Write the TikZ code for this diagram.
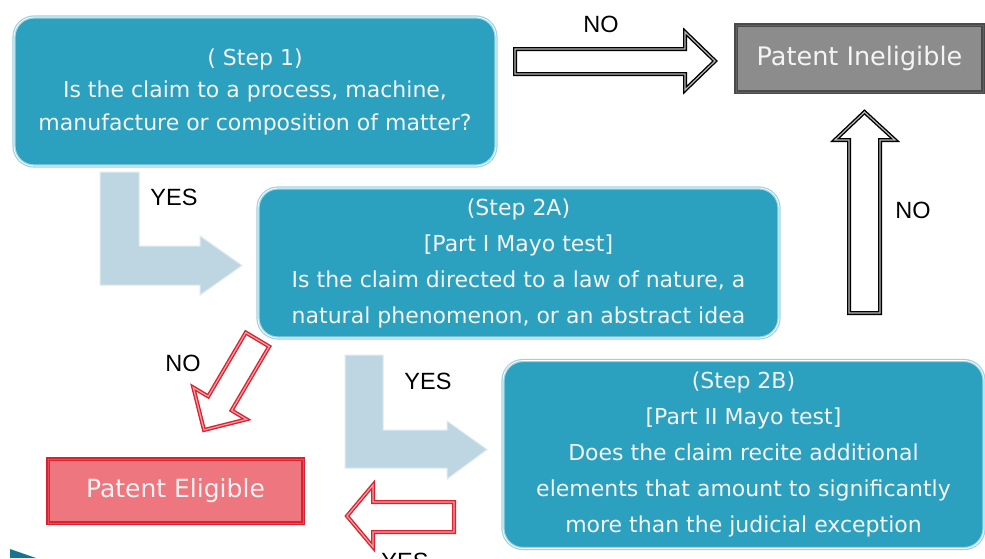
\documentclass[tikz,border=0pt]{standalone}
\usepackage{fontspec}
\setmainfont{DejaVu Sans}
\newfontfamily\labfont{Liberation Sans}
\definecolor{tealfill}{HTML}{2CA1BF}
\definecolor{tealedge}{HTML}{9BD3E3}
\definecolor{tealdark}{HTML}{16758C}
\definecolor{grayfill}{HTML}{8C8C8C}
\definecolor{grayedge}{HTML}{4A4A4A}
\definecolor{redfill}{HTML}{EE767E}
\definecolor{rededge}{HTML}{DC2230}
\definecolor{redlight}{HTML}{F3A3A8}
\definecolor{lightarr}{HTML}{BED6E1}
\definecolor{lightarredge}{HTML}{DDEBF1}
\definecolor{boxtext}{HTML}{F4F4F4}
\tikzset{
  tealbox/.style={draw=tealedge, double=white, double distance=0.8pt, line width=1.2pt,
    fill=tealfill, rounded corners=20pt, text=boxtext, align=center,
    font=\fontsize{22}{36}\selectfont, inner sep=0pt},
  graybox/.style={draw=grayedge, double=gray!75!black, double distance=1pt, line width=1.5pt, fill=grayfill, text=boxtext,
    font=\fontsize{25.5}{30}\selectfont, inner sep=0pt},
  redbox/.style={draw=rededge, double=rededge!80!white, double distance=1pt, line width=1.7pt, fill=redfill, text=boxtext,
    font=\fontsize{25}{30}\selectfont, inner sep=0pt},
  blkarrow/.style={draw=black, line width=1.4pt, double=gray!55, double distance=1.2pt, fill=white},
  redarrow/.style={draw=rededge, line width=1.4pt, double=redlight, double distance=1.2pt, fill=white},
  ltarrow/.style={fill=lightarr, draw=lightarredge, line width=1pt},
  lab/.style={font=\labfont\fontsize{23.5}{26}\selectfont, text=black, inner sep=0pt}
}
\begin{document}
\begin{tikzpicture}[x=1pt,y=-1pt]
\useasboundingbox (0,0) rectangle (985,558);
\fill[white] (0,0) rectangle (985,558);

% boxes
\node[tealbox, minimum width=482pt, minimum height=149pt] (s1) at (255,91.5)
  {( Step 1)\\[-3.5pt]Is the claim to a process, machine,\\[-3.5pt]manufacture or composition of matter?};
\node[tealbox, minimum width=521pt, minimum height=150pt] (s2a) at (518.5,263)
  {(Step 2A)\\{}[Part I Mayo test]\\Is the claim directed to a law of nature, a\\natural phenomenon, or an abstract idea};
\node[tealbox, minimum width=481pt, minimum height=188pt] (s2b) at (743.5,454.5)
  {(Step 2B)\\{}[Part II Mayo test]\\Does the claim recite additional\\elements that amount to significantly\\more than the judicial exception};
\node[graybox, minimum width=247pt, minimum height=67pt] (inel) at (859.5,58.5) {Patent Ineligible};
\node[redbox, minimum width=255pt, minimum height=64pt] (elig) at (175.5,491) {Patent Eligible};

% NO right arrow (step 1 -> ineligible)
\draw[blkarrow] (515,49) -- (685,49) -- (685,32) -- (715,61) -- (685,90) -- (685,74) -- (515,74) -- cycle;
% NO up arrow (step 2B -> ineligible)
\draw[blkarrow] (849,313) -- (849,140) -- (835,140) -- (864.5,112) -- (895,140) -- (880,140) -- (880,313) -- cycle;
% YES L arrow 1
\draw[ltarrow] (100,172) -- (139,172) -- (139,246) -- (200,246) -- (200,236) -- (242,265.5)
  -- (200,295) -- (200,285) -- (100,285) -- cycle;
% YES L arrow 2
\draw[ltarrow] (345,355) -- (383,355) -- (383,430) -- (447,430) -- (447,421) -- (487,449.5)
  -- (447,479) -- (447,468) -- (345,468) -- cycle;
% NO red diagonal arrow
\draw[redarrow] (245.8,332.5) -- (269.2,346.5) -- (231.6,410.4) -- (246.5,419.3) -- (204,430)
  -- (193.3,387.5) -- (208.2,396.4) -- cycle;
% YES red left arrow
\draw[redarrow] (454,502) -- (373,502) -- (373,485) -- (347,516) -- (373,547) -- (373,532) -- (454,532) -- cycle;

% sliver bottom left
\fill[tealdark] (10,549) -- (36,558) -- (10,558) -- cycle;

% labels
\node[lab] (lno1) at (601,24) {NO};
\node[lab] (lno2) at (913,210) {NO};
\node[lab] (lyes1) at (174,197) {YES};
\node[lab] (lno3) at (183,363) {NO};
\node[lab] (lyes2) at (428,381) {YES};
\node[lab] (lyes3) at (405,561) {YES};
\end{tikzpicture}
\end{document}
